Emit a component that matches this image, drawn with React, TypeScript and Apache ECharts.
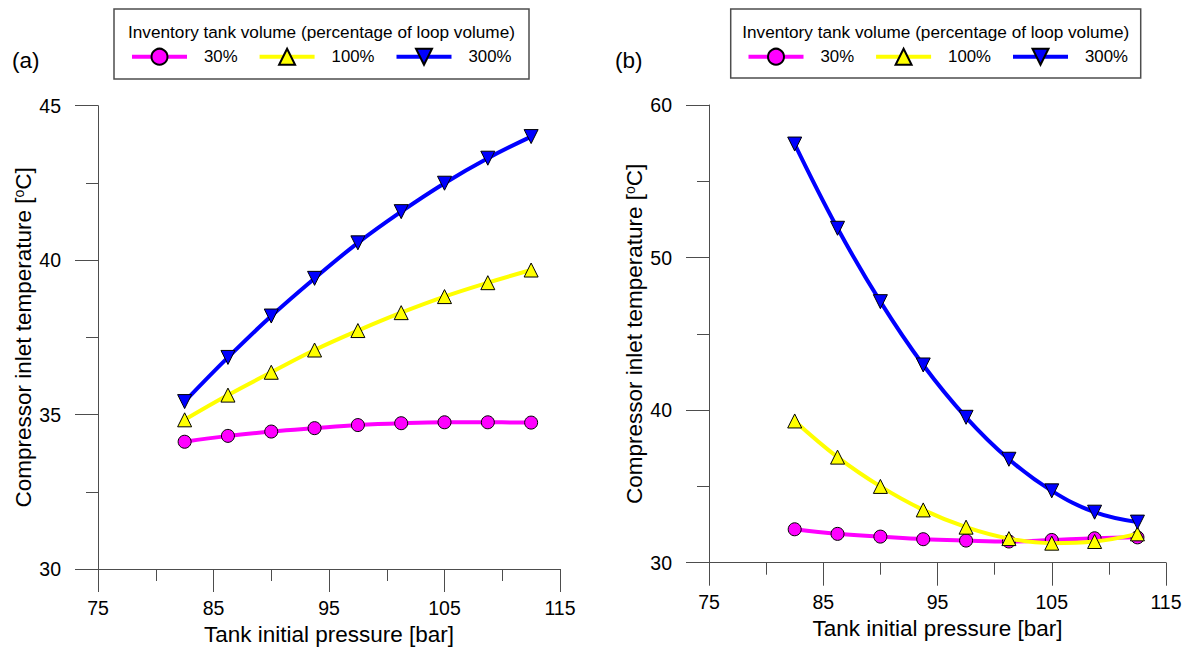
import React, { useEffect, useRef } from "react";
import * as echarts from "echarts";

const pressure = [82.5, 86.25, 90, 93.75, 97.5, 101.25, 105, 108.75, 112.5];
const seriesNames = ["30%", "100%", "300%"];

// Panel (a)
const a30 = [34.12, 34.31, 34.45, 34.56, 34.66, 34.72, 34.75, 34.75, 34.74];
const a100 = [34.83, 35.63, 36.37, 37.09, 37.72, 38.3, 38.82, 39.27, 39.68];
const a300 = [35.42, 36.85, 38.19, 39.41, 40.56, 41.57, 42.49, 43.3, 44.0];

// Panel (b)
const b30 = [32.19, 31.89, 31.71, 31.54, 31.45, 31.39, 31.49, 31.6, 31.66];
const b100 = [39.29, 36.92, 35.0, 33.46, 32.33, 31.58, 31.28, 31.39, 31.89];
const b300 = [57.44, 51.92, 47.11, 42.96, 39.53, 36.78, 34.71, 33.31, 32.66];

const xTicks = { min: 75, max: 115, interval: 10 };
const yTicksA = { min: 30, max: 45, interval: 5 };
const yTicksB = { min: 30, max: 60, interval: 10 };

const legendTitle = "Inventory tank volume (percentage of loop volume)";
const xName = "Tank initial pressure [bar]";
const yName = "Compressor inlet temperature [{sup|o}C]";

const FONT = "'Liberation Sans', Arial, sans-serif";
const AXIS_COLOR = "#4d4d4d";
const lineColors = ["#FF00FF", "#FFFF00", "#0000FF"];
const symbols = ["circle", "triangle", "triangle"];
const rotations = [0, 0, 180];
const symbolSizes = [13, 14, 14];

export default function App() {
  const ref = useRef<HTMLDivElement>(null);

  useEffect(() => {
    const chart = echarts.init(ref.current!, null, { renderer: "svg" });

    const grids = [
      { left: 98, top: 105.7, width: 462, height: 463.3 },
      { left: 709, top: 105, width: 457, height: 457.7 },
    ];

    const makeX = (gi: number) => ({
      type: "value",
      gridIndex: gi,
      min: xTicks.min,
      max: xTicks.max,
      interval: xTicks.interval,
      name: xName,
      nameLocation: "middle",
      nameGap: 49,
      nameTextStyle: { fontSize: 22.5, color: "#000", fontFamily: FONT },
      axisLine: { show: true, onZero: false, lineStyle: { color: AXIS_COLOR, width: 1 } },
      axisTick: { show: true, inside: false, length: 23, lineStyle: { color: AXIS_COLOR, width: 1 } },
      minorTick: { show: true, splitNumber: 2, length: 12, lineStyle: { color: AXIS_COLOR, width: 1 } },
      splitLine: { show: false },
      minorSplitLine: { show: false },
      axisLabel: { fontSize: 19.5, color: "#000", margin: 29, fontFamily: FONT },
    });

    const makeY = (gi: number, t: { min: number; max: number; interval: number }) => ({
      type: "value",
      gridIndex: gi,
      min: t.min,
      max: t.max,
      interval: t.interval,
      name: yName,
      nameLocation: "middle",
      nameGap: 63,
      nameTextStyle: {
        fontSize: 22.5,
        color: "#000",
        fontFamily: FONT,
        rich: {
          sup: { fontSize: 14, color: "#000", fontFamily: FONT, verticalAlign: "top" },
        },
      },
      axisLine: { show: true, onZero: false, lineStyle: { color: AXIS_COLOR, width: 1 } },
      axisTick: { show: true, inside: false, length: 23, lineStyle: { color: AXIS_COLOR, width: 1 } },
      minorTick: { show: true, splitNumber: 2, length: 12, lineStyle: { color: AXIS_COLOR, width: 1 } },
      splitLine: { show: false },
      minorSplitLine: { show: false },
      axisLabel: { fontSize: 19.5, color: "#000", margin: 37, fontFamily: FONT },
    });

    const mkSeries = (gi: number, arrs: number[][]) =>
      arrs.map((vals, i) => ({
        type: "line",
        name: seriesNames[i],
        xAxisIndex: gi,
        yAxisIndex: gi,
        data: pressure.map((p, k) => [p, vals[k]]),
        smooth: 0.4,
        symbol: symbols[i],
        symbolSize: symbolSizes[i],
        symbolRotate: rotations[i],
        lineStyle: { color: lineColors[i], width: 4 },
        itemStyle: { color: lineColors[i], borderColor: "#000", borderWidth: 1 },
        z: 2 + i,
      }));

    const legendBase = {
      data: seriesNames,
      orient: "horizontal",
      itemWidth: 55,
      itemHeight: 20,
      itemGap: 20,
      padding: 0,
      selectedMode: false,
      lineStyle: { width: 4 },
      textStyle: { fontSize: 16.8, color: "#000", fontFamily: FONT, padding: [0, 0, 0, 12] },
    };

    const titleStyle = {
      text: legendTitle,
      fontSize: 17.2,
      fontFamily: FONT,
      fill: "#000",
      align: "center",
      verticalAlign: "middle",
    };

    const option: any = {
      animation: false,
      backgroundColor: "#fff",
      textStyle: { fontFamily: FONT },
      grid: grids,
      xAxis: [makeX(0), makeX(1)],
      yAxis: [makeY(0, yTicksA), makeY(1, yTicksB)],
      legend: [
        { ...legendBase, left: 130, top: 47.7 },
        { ...legendBase, left: 746.5, top: 47.7 },
      ],
      graphic: [
        {
          type: "rect",
          shape: { x: 114, y: 9, width: 415, height: 70 },
          style: { fill: "none", stroke: AXIS_COLOR, lineWidth: 1.5 },
          silent: true,
        },
        {
          type: "rect",
          shape: { x: 730.7, y: 9, width: 410, height: 69 },
          style: { fill: "none", stroke: AXIS_COLOR, lineWidth: 1.5 },
          silent: true,
        },
        { type: "text", x: 321.5, y: 32, style: titleStyle },
        { type: "text", x: 935.7, y: 32, style: titleStyle },
        {
          type: "text",
          x: 12,
          y: 60,
          style: { text: "(a)", fontSize: 22.5, fontFamily: FONT, fill: "#000", verticalAlign: "middle" },
        },
        {
          type: "text",
          x: 615,
          y: 60,
          style: { text: "(b)", fontSize: 22.5, fontFamily: FONT, fill: "#000", verticalAlign: "middle" },
        },
      ],
      series: [...mkSeries(0, [a30, a100, a300]), ...mkSeries(1, [b30, b100, b300])],
    };

    chart.setOption(option);
    return () => chart.dispose();
  }, []);

  return (
    <div
      ref={ref}
      style={{ position: "absolute", left: 0, top: 0, width: 1188, height: 655, background: "#fff" }}
    />
  );
}
